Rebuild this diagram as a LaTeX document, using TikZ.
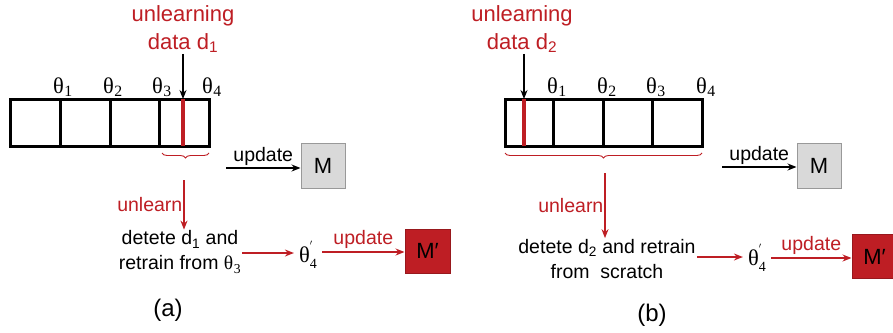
\documentclass[tikz,border=0pt]{standalone}
\usepackage{fontspec}
\setmainfont{Liberation Sans}
\newfontfamily\thfont{Liberation Serif}
\usetikzlibrary{arrows.meta,decorations.pathreplacing}
\definecolor{unred}{RGB}{190,30,36}
\definecolor{mgrey}{RGB}{217,217,217}
\newcommand{\thsub}[1]{{\thfont θ\kern0.5pt\textsubscript{#1}}}
\newcommand{\thnew}{{\thfont θ\rlap{\raisebox{0.55em}{\fontsize{12}{12}\selectfont$'$}}\raisebox{-0.3em}{\fontsize{14}{14}\selectfont 4}}}
\begin{document}
\begin{tikzpicture}[x=1pt,y=-1pt,
	lbl/.style = {font=\fontsize{19.5}{25}\selectfont, inner sep=1pt},
	red lbl/.style = {lbl, text=unred},
	top lbl/.style = {font=\fontsize{22}{28}\selectfont, text=unred, align=center, inner sep=1pt},
	th lbl/.style = {font=\fontsize{22.5}{22}\selectfont, inner sep=0pt, anchor=base west},
	bar/.style = {line width=3pt},
	arr/.style = {-{Stealth[length=9pt,width=7pt]}, line width=1.3pt},
	red arr/.style = {arr, draw=unred},
	m node/.style = {draw=black!40, fill=mgrey, line width=1pt, minimum width=44pt, minimum height=45pt, font=\fontsize{22}{22}\selectfont},
	mp node/.style = {draw=unred!80!black, fill=unred, line width=1pt, minimum width=45pt, minimum height=44pt, font=\fontsize{22}{22}\selectfont},
	brc/.style = {draw=unred, line width=0.9pt, decorate, decoration={brace, mirror, amplitude=5pt}}]
	\useasboundingbox (0,0) rectangle (893,332);
	
	% (a)
	\node[top lbl] (ua) at (183,29) {unlearning\\data d\textsubscript{1}};
	\draw[bar] (10,99) rectangle (209,146);
	\foreach \x in {60,110,159} \draw[bar] (\x,99) -- (\x,146);
	\foreach \x/\i in {60/1,110/2,159/3,209/4}
		\node[th lbl] (ta\i) at (\x-7,93) {\thsub{\i}};
	\coordinate (da) at (183,99);
	\coordinate (dab) at (183,146);
	\draw[unred, line width=3.2pt] (da) -- (dab);
	\draw[arr] (ua.south -| da) -- (da);
	\draw[brc] (162,153) coordinate (bra1) -- (209,153) coordinate (bra2);
	
	\node[m node] (ma) at (323,165.5) {M};
	\coordinate (upa) at (226,168);
	\draw[arr] (upa) -- (ma.west |- upa) node[midway, above, lbl, inner sep=2pt] {update};
	
	\coordinate (ula) at (184,180);
	\node[lbl, align=center] (reta) at (180,252) {detete d\textsubscript{1} and\\retrain from \thsub{3}};
	\draw[red arr] (ula) -- (ula |- reta.north) node[midway, left, red lbl] {unlearn};
	\node[inner sep=5pt] (tha) at (308,255) {\fontsize{22.5}{22}\selectfont\thnew};
	\draw[red arr] (reta.east |- 0,253) -- (tha.west |- 0,253);
	\node[mp node] (mpa) at (427.5,251) {M′};
	\draw[red arr] (tha.east |- 0,252) -- (mpa.west |- 0,252) node[midway, above, red lbl, inner sep=3pt] {update};
	\node[lbl, font=\fontsize{24}{24}\selectfont] (capa) at (168,310) {(a)};
	
	% (b)
	\node[top lbl] (ub) at (522,29) {unlear\kern-1.5pt ning\\data d\textsubscript{2}};
	\draw[bar] (505,99) rectangle (702,146);
	\foreach \x in {553,603,652} \draw[bar] (\x,99) -- (\x,146);
	\foreach \x/\i in {553/1,603/2,652/3,702/4}
		\node[th lbl] (tb\i) at (\x-6,93) {\thsub{\i}};
	\coordinate (db) at (524,99);
	\coordinate (dbb) at (524,146);
	\draw[unred, line width=3.2pt] (db) -- (dbb);
	\draw[arr] (ub.south -| db) -- (db);
	\draw[brc] (505,153) coordinate (brb1) -- (702,153) coordinate (brb2);
	
	\node[m node] (mb) at (819,165.5) {M};
	\coordinate (upb) at (722,167);
	\draw[arr] (upb) -- (mb.west |- upb) node[midway, above, lbl, inner sep=2pt] {update};
	
	\coordinate (ulb) at (605,173);
	\node[lbl, align=center] (retb) at (607,259) {detete d\textsubscript{2} and retrain\\from\ \ scratch};
	\draw[red arr] (ulb) -- (ulb |- retb.north) node[midway, left, red lbl] {unlearn};
	\node[inner sep=5pt] (thb) at (757,258) {\fontsize{22.5}{22}\selectfont\thnew};
	\draw[red arr] (retb.east |- 0,257) -- (thb.west |- 0,257);
	\node[mp node] (mpb) at (874.5,256.5) {M′};
	\draw[red arr] (thb.east |- 0,258) -- (mpb.west |- 0,258) node[midway, above, red lbl, inner sep=3pt] {update};
	\node[lbl, font=\fontsize{24}{24}\selectfont] (capb) at (652,315) {(b)};
\end{tikzpicture}
\end{document}
